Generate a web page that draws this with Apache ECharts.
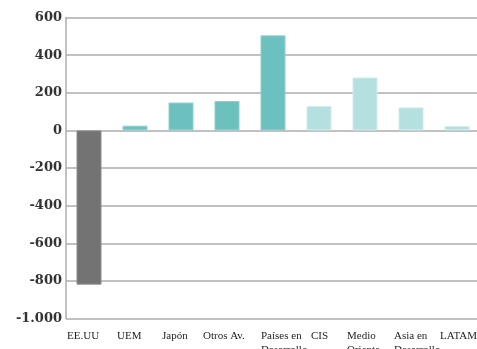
<!DOCTYPE html>
<html>
<head>
<meta charset="utf-8">
<script src="https://cdn.jsdelivr.net/npm/echarts@6/dist/echarts.min.js"></script>
<style>
  html, body { margin: 0; padding: 0; background: #fff; }
  #chart { width: 477px; height: 349px; }
</style>
</head>
<body>
<div id="chart"></div>
<script>
// Regions along the horizontal axis
const categories = ['EE.UU', 'UEM', 'Japón', 'Otros Av.', 'Países en\nDesarrollo', 'CIS', 'Medio\nOriente', 'Asia en\nDesarrollo', 'LATAM'];
// Balance per region
const values = [-820, 25, 148, 156, 505, 129, 281, 122, 24];
// Group of each region: 0 = EE.UU, 1 = advanced / developing, 2 = other emerging
const groups = [0, 1, 1, 1, 1, 2, 2, 2, 2];
// Value axis ticks and their printed labels
const tickValues = [-1000, -800, -600, -400, -200, 0, 200, 400, 600];
const tickLabels = ['-1.000', '-800', '-600', '-400', '-200', '0', '200', '400', '600'];

// Styling
const fills = ['#737373', '#6cc1be', '#b4e0df'];
const edges = ['#8e8e8e', '#8fd0cd', '#d2eceb'];
// Horizontal nudge (px) of each left-aligned category label from its slot centre
const labelNudge = [-22, -18, -19, -24, -12, -8, -18, -17, -17];

const chart = echarts.init(document.getElementById('chart'), null, { renderer: 'canvas' });

chart.setOption({
  animation: false,
  backgroundColor: '#ffffff',
  grid: { left: 66, right: -3, top: 17.5, bottom: 30.5, containLabel: false, outerBoundsMode: 'none' },
  xAxis: {
    type: 'category',
    data: categories.map((c, i) => ({
      value: c,
      textStyle: { align: 'left', padding: [0, 0, 0, labelNudge[i]] }
    })),
    axisLine: { show: false, onZero: false },
    axisTick: { show: false },
    axisLabel: {
      interval: 0,
      margin: 11,
      align: 'left',
      color: '#1e1e1e',
      fontFamily: 'Liberation Serif',
      fontSize: 11,
      lineHeight: 14,
      verticalAlign: 'top'
    }
  },
  yAxis: {
    type: 'value',
    min: tickValues[0],
    max: tickValues[tickValues.length - 1],
    interval: 200,
    axisLine: { show: true, lineStyle: { color: '#adadad', width: 1.5 } },
    axisTick: { show: false },
    splitLine: { show: true, lineStyle: { color: '#adadad', width: 1.5 } },
    axisLabel: {
      margin: 4,
      color: '#333333',
      fontFamily: 'DejaVu Serif',
      fontWeight: 'bold',
      fontSize: 13,
      formatter: v => tickLabels[tickValues.indexOf(v)]
    }
  },
  series: [{
    type: 'bar',
    barWidth: 25,
    data: values.map((v, i) => ({
      value: v,
      itemStyle: { color: fills[groups[i]], borderColor: edges[groups[i]], borderWidth: 1 }
    }))
  }]
});
</script>
</body>
</html>
